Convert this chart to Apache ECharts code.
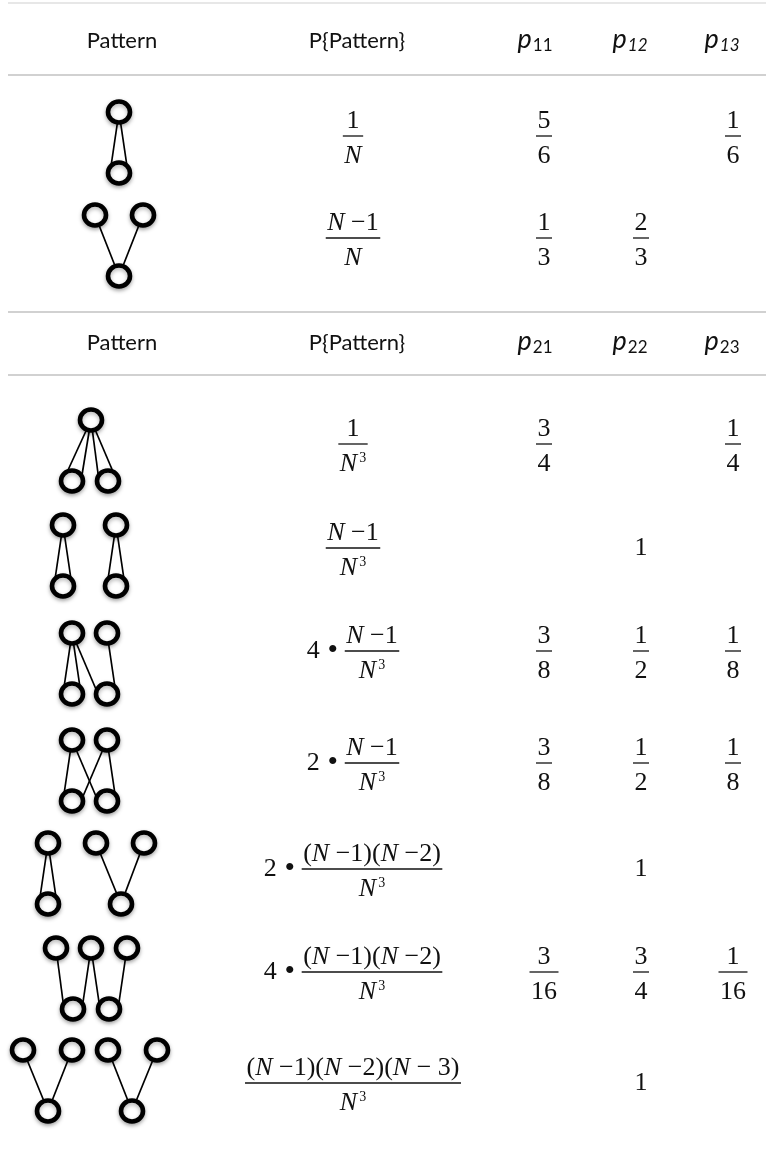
<!DOCTYPE html>
<html>
<head>
<meta charset="utf-8">
<script src="https://cdn.jsdelivr.net/npm/echarts@6/dist/echarts.min.js"></script>
<style>
  html, body { margin: 0; padding: 0; background: #fff; }
  #chart { width: 766px; height: 1156px; }
</style>
</head>
<body>
<div id="chart"></div>
<script>
// ---- table content ----
var headerLabels = ['Pattern', 'P{Pattern}'];
var pSubs1 = ['11', '12', '13'];
var pSubs2 = ['21', '22', '23'];
var pSubsItalic1 = [false, true, true];
var pSubsItalic2 = [false, false, false];

// P{Pattern}: coefficient, numerator, denominator ("^3" = superscript)
var probCoef = ['', '', '', '', '4', '2', '2', '4', ''];
var probNum = ['1', 'N \u22121', '1', 'N \u22121', 'N \u22121', 'N \u22121',
  '(N \u22121)(N \u22122)', '(N \u22121)(N \u22122)', '(N \u22121)(N \u22122)(N \u2212 3)'];
var probDen = ['N', 'N', 'N^3', 'N^3', 'N^3', 'N^3', 'N^3', 'N^3', 'N^3'];

// transition probabilities per row
var pCol1 = ['5/6', '1/3', '3/4', '', '3/8', '3/8', '', '3/16', ''];
var pCol2 = ['', '2/3', '', '1', '1/2', '1/2', '1', '3/4', '1'];
var pCol3 = ['1/6', '', '1/4', '', '1/8', '1/8', '', '1/16', ''];

// patterns: nodes [x, level(0 top / 1 bottom)], edges [from, to, side]
var patternNodes = [
  [[119, 0], [119, 1]],
  [[95, 0], [143, 0], [119, 1]],
  [[91, 0], [72, 1], [108, 1]],
  [[63, 0], [116, 0], [63, 1], [116, 1]],
  [[72, 0], [107, 0], [72, 1], [107, 1]],
  [[72, 0], [107, 0], [72, 1], [107, 1]],
  [[48, 0], [96, 0], [144, 0], [48, 1], [121, 1]],
  [[56, 0], [91, 0], [127, 0], [73, 1], [109, 1]],
  [[23, 0], [72, 0], [108, 0], [157, 0], [48, 1], [132, 1]]
];
var patternEdges = [
  [[0, 1, -1], [0, 1, 1]],
  [[0, 2, 0], [1, 2, 0]],
  [[0, 1, -1], [0, 1, 1], [0, 2, -1], [0, 2, 1]],
  [[0, 2, -1], [0, 2, 1], [1, 3, -1], [1, 3, 1]],
  [[0, 2, -1], [0, 2, 1], [0, 3, -1], [1, 3, 1]],
  [[0, 2, -1], [0, 3, -1], [1, 2, 1], [1, 3, 1]],
  [[0, 3, -1], [0, 3, 1], [1, 4, 0], [2, 4, 0]],
  [[0, 3, -1], [1, 3, 1], [1, 4, -1], [2, 4, 1]],
  [[0, 4, 0], [1, 4, 0], [2, 5, 0], [3, 5, 0]]
];

// ---- layout ----
var rowY = [136, 238, 444, 548, 651, 763, 869, 972, 1083];
var patternTop = [112, 215, 420, 525, 633, 740, 843, 948, 1050];
var patternDrop = 61;
var sideShift = 9;
var headY = [41, 343];
var headX = [122, 357];
var pHeadX = [535, 630, 722];
var probX = 353;
var pColX = [544, 641, 733];
var ruleY = [3, 75, 312, 375];

var SERIF = '"Liberation Serif", "Times New Roman", serif';
var SANS = 'Lato, "Open Sans", sans-serif';
var INK = '#111';

var measureCtx = document.createElement('canvas').getContext('2d');
function textW(str, font) {
  measureCtx.font = font;
  return measureCtx.measureText(str).width;
}

var mathFonts = {
  r: '26px ' + SERIF,
  i: 'italic 26px ' + SERIF,
  s: '14px ' + SERIF
};

function mathTokens(str) {
  var out = [];
  for (var i = 0; i < str.length; i++) {
    var c = str[i];
    if (c === '^') { out.push({t: str[i + 1], k: 's'}); i++; continue; }
    var k = c === 'N' ? 'i' : 'r';
    if (out.length && out[out.length - 1].k === k) out[out.length - 1].t += c;
    else out.push({t: c, k: k});
  }
  return out;
}

function tokensWidth(toks) {
  var w = 0;
  toks.forEach(function (t) { w += textW(t.t, mathFonts[t.k]) + (t.k === 's' ? 2 : 0); });
  return w;
}

function tokenEls(toks, x, y) {
  var els = [];
  toks.forEach(function (t) {
    if (t.k === 's') x += 2;
    els.push({
      type: 'text',
      style: {
        x: x, y: t.k === 's' ? y - 6 : y,
        text: t.t, font: mathFonts[t.k], fill: INK,
        align: 'left', verticalAlign: 'middle'
      }
    });
    x += textW(t.t, mathFonts[t.k]);
  });
  return els;
}

function fracEls(cx, cy, coef, num, den) {
  var nT = mathTokens(num), dT = mathTokens(den);
  var nW = tokensWidth(nT), dW = tokensWidth(dT);
  var barW = Math.max(nW, dW) + 3;
  var coefW = coef ? 38 : 0;
  var barL = cx - (coefW + barW) / 2 + coefW;
  var els = [{
    type: 'line',
    shape: {x1: barL, y1: cy, x2: barL + barW, y2: cy},
    style: {stroke: INK, lineWidth: 1.3}
  }];
  els = els.concat(tokenEls(nT, barL + (barW - nW) / 2, cy - 15));
  els = els.concat(tokenEls(dT, barL + (barW - dW) / 2, cy + 20));
  if (coef) {
    els.push({type: 'text', style: {x: barL - 25, y: cy, text: coef, font: mathFonts.r,
      fill: INK, align: 'right', verticalAlign: 'middle'}});
    els.push({type: 'text', style: {x: barL - 12, y: cy, text: '\u2022', font: '30px ' + SERIF,
      fill: INK, align: 'center', verticalAlign: 'middle'}});
  }
  return els;
}

function valueEls(cx, cy, v) {
  if (!v) return [];
  var parts = v.split('/');
  if (parts.length === 1) {
    var toks = mathTokens(v);
    return tokenEls(toks, cx - tokensWidth(toks) / 2, cy);
  }
  return fracEls(cx, cy, '', parts[0], parts[1]);
}

function pHeadEls(cx, cy, sub, italicSub) {
  var pFont = 'italic 27px ' + SANS;
  var sFont = (italicSub ? 'italic ' : '') + '17px ' + SANS;
  var pW = textW('p', pFont), sW = textW(sub, sFont);
  var x = cx - (pW + sW + 1) / 2;
  return [
    {type: 'text', style: {x: x, y: cy - 2, text: 'p', font: pFont, fill: INK, align: 'left', verticalAlign: 'middle'}},
    {type: 'text', style: {x: x + pW + 1, y: cy + 5, text: sub, font: sFont, fill: INK, align: 'left', verticalAlign: 'middle'}}
  ];
}

// ---- build cells for the custom series ----
var cells = [];
ruleY.forEach(function (y, i) { cells.push({kind: 'rule', x: 8, y: y, x2: 766, first: i === 0}); });
headY.forEach(function (y, h) {
  headerLabels.forEach(function (lab, j) { cells.push({kind: 'head', x: headX[j], y: y, text: lab}); });
  var subs = h === 0 ? pSubs1 : pSubs2;
  var ital = h === 0 ? pSubsItalic1 : pSubsItalic2;
  subs.forEach(function (s, j) { cells.push({kind: 'phead', x: pHeadX[j], y: y, sub: s, italic: ital[j]}); });
});
rowY.forEach(function (y, r) {
  cells.push({kind: 'prob', x: probX, y: y, r: r});
  [pCol1, pCol2, pCol3].forEach(function (col, j) {
    if (col[r]) cells.push({kind: 'value', x: pColX[j], y: y, v: col[r]});
  });
});

// ---- nodes and edges of the patterns ----
var nodeData = [];
var edgeData = [];
patternNodes.forEach(function (nodes, p) {
  var pos = nodes.map(function (n) { return [n[0], patternTop[p] + n[1] * patternDrop]; });
  pos.forEach(function (q) { nodeData.push(q); });
  patternEdges[p].forEach(function (e) {
    var a = pos[e[0]], b = pos[e[1]];
    edgeData.push({coords: [a, [b[0] + e[2] * sideShift, b[1]]]});
  });
});

var chart = echarts.init(document.getElementById('chart'));
chart.setOption({
  animation: false,
  backgroundColor: '#fff',
  grid: {left: 0, right: 0, top: 0, bottom: 0},
  xAxis: {type: 'value', min: 0, max: 766, show: false},
  yAxis: {type: 'value', min: 0, max: 1156, inverse: true, show: false},
  series: [
    {
      type: 'custom',
      silent: true,
      z: 1,
      data: cells.map(function (c, i) { return [c.x, c.y, i]; }),
      renderItem: function (params, api) {
        var c = cells[api.value(2)];
        var pt = api.coord([api.value(0), api.value(1)]);
        if (c.kind === 'rule') {
          var pt2 = api.coord([c.x2, api.value(1)]);
          return {type: 'line', shape: {x1: pt[0], y1: pt[1], x2: pt2[0], y2: pt2[1]},
            style: {stroke: c.first ? '#cfcfcf' : '#a3a3a3', lineWidth: 1.2}};
        }
        var els;
        if (c.kind === 'head') {
          els = [{type: 'text', style: {x: pt[0], y: pt[1], text: c.text, font: '22px ' + SANS,
            fill: INK, align: 'center', verticalAlign: 'middle'}}];
        } else if (c.kind === 'phead') {
          els = pHeadEls(pt[0], pt[1], c.sub, c.italic);
        } else if (c.kind === 'prob') {
          els = fracEls(pt[0], pt[1], probCoef[c.r], probNum[c.r], probDen[c.r]);
        } else {
          els = valueEls(pt[0], pt[1], c.v);
        }
        return {type: 'group', children: els};
      }
    },
    {
      type: 'lines',
      coordinateSystem: 'cartesian2d',
      silent: true,
      z: 2,
      lineStyle: {color: '#000', width: 1.7, opacity: 1},
      data: edgeData
    },
    {
      type: 'scatter',
      silent: true,
      z: 3,
      symbol: 'circle',
      symbolSize: [22, 21],
      itemStyle: {
        color: '#fff', borderColor: '#000', borderWidth: 4.5, opacity: 1,
        shadowBlur: 4, shadowColor: 'rgba(0,0,0,0.3)', shadowOffsetY: 2
      },
      data: nodeData
    }
  ]
});
</script>
</body>
</html>
